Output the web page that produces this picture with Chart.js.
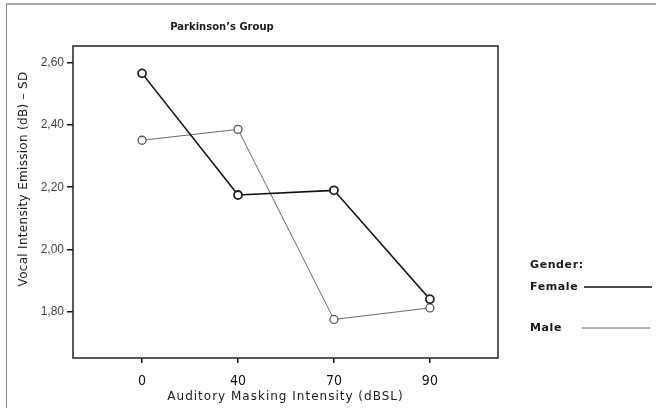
<!DOCTYPE html>
<html>
<head>
<meta charset="utf-8">
<title>Parkinson's Group</title>
<script src="https://cdn.jsdelivr.net/npm/chart.js@4/dist/chart.umd.min.js"></script>
<style>
  body { margin: 0; background: #fff; }
  #wrap { width: 656px; height: 408px; }
</style>
</head>
<body>
<div id="wrap"><canvas id="parkChart" width="656" height="408"></canvas></div>
<script>
// data
const maskingLevels = ['0', '40', '70', '90'];
const femaleSD = [2.566, 2.175, 2.19, 1.84];
const maleSD = [2.351, 2.386, 1.775, 1.812];
const yTickValues = [1.8, 2.0, 2.2, 2.4, 2.6];

const chartTitle = 'Parkinson\u2019s Group';
const xTitle = 'Auditory Masking Intensity (dBSL)';
const yTitle = 'Vocal Intensity Emission (dB) \u2013 SD';
const legendTitle = 'Gender:';

// turn category values into {x, y} points on an index axis
function toPoints(values) {
    return values.map((v, i) => ({ x: i, y: v }));
}

// grey frame round the picture, black box round the plot
const framePlugin = {
    id: 'framePlugin',
    beforeDraw(chart) {
        const ctx = chart.ctx;
        ctx.save();
        ctx.fillStyle = '#fff';
        ctx.fillRect(0, 0, chart.width, chart.height);
        ctx.strokeStyle = '#a8a8a8';
        ctx.lineWidth = 2;
        ctx.beginPath();
        ctx.moveTo(6, 4);
        ctx.lineTo(chart.width, 4);
        ctx.stroke();
        ctx.strokeStyle = '#8a8a8a';
        ctx.lineWidth = 1;
        ctx.beginPath();
        ctx.moveTo(6.5, 4);
        ctx.lineTo(6.5, chart.height);
        ctx.stroke();
        ctx.restore();
    },
    beforeDatasetsDraw(chart) {
        const a = chart.chartArea;
        const ctx = chart.ctx;
        ctx.save();
        ctx.strokeStyle = '#222';
        ctx.lineWidth = 1.5;
        ctx.strokeRect(a.left, a.top, a.right - a.left, a.bottom - a.top);
        ctx.restore();
    }
};

// titles and the "Gender:" legend, drawn with a bit of letter spacing
const textPlugin = {
    id: 'textPlugin',
    afterDraw(chart) {
        const ctx = chart.ctx;
        const a = chart.chartArea;
        ctx.save();
        ctx.fillStyle = '#1a1a1a';
        ctx.textBaseline = 'middle';
        ctx.textAlign = 'center';

        ctx.font = 'bold 10px "DejaVu Sans", Verdana, sans-serif';
        ctx.letterSpacing = '0px';
        ctx.fillText(chartTitle, 222, 27);

        ctx.font = '12px "DejaVu Sans", Verdana, sans-serif';
        ctx.letterSpacing = '1px';
        ctx.fillText(xTitle, (a.left + a.right) / 2, 397);

        ctx.letterSpacing = '0.3px';
        ctx.save();
        ctx.translate(24, 179);
        ctx.rotate(-Math.PI / 2);
        ctx.fillText(yTitle, 0, 0);
        ctx.restore();

        ctx.textAlign = 'left';
        ctx.font = 'bold 11px "DejaVu Sans", Verdana, sans-serif';
        ctx.letterSpacing = '0.6px';
        ctx.fillText(legendTitle, 530, 265);

        const rows = [
            { y: 286, lineX0: 584, lineX1: 652 },
            { y: 327, lineX0: 582, lineX1: 650 }
        ];
        chart.data.datasets.forEach((ds, i) => {
            const r = rows[i];
            ctx.fillStyle = '#1a1a1a';
            ctx.fillText(ds.label, 530, r.y + 1);
            ctx.strokeStyle = ds.borderColor;
            ctx.lineWidth = ds.borderWidth;
            ctx.beginPath();
            ctx.moveTo(r.lineX0, r.y + 1);
            ctx.lineTo(r.lineX1, r.y + 1);
            ctx.stroke();
        });
        ctx.restore();
    }
};

const ctx = document.getElementById('parkChart').getContext('2d');
const parkChart = new Chart(ctx, {
    type: 'line',
    data: {
        datasets: [
            {
                label: 'Female',
                data: toPoints(femaleSD),
                borderColor: '#111',
                borderWidth: 1.6,
                pointRadius: 4,
                pointBorderWidth: 1.8,
                pointBorderColor: '#222',
                pointBackgroundColor: '#fff',
                tension: 0
            },
            {
                label: 'Male',
                data: toPoints(maleSD),
                borderColor: '#6a6a6a',
                borderWidth: 1,
                pointRadius: 4,
                pointBorderWidth: 1.3,
                pointBorderColor: '#555',
                pointBackgroundColor: '#fff',
                tension: 0
            }
        ]
    },
    options: {
        responsive: false,
        animation: false,
        layout: { padding: { left: 0, top: 46, right: 158, bottom: 0 } },
        plugins: {
            legend: { display: false },
            title: { display: false },
            tooltip: { enabled: false }
        },
        scales: {
            x: {
                type: 'linear',
                min: -0.72,
                max: 3.71,
                afterBuildTicks: s => { s.ticks = maskingLevels.map((_, i) => ({ value: i })); },
                afterFit: s => { s.height = 50; },
                ticks: {
                    callback: v => maskingLevels[v],
                    color: '#111',
                    padding: 10,
                    maxRotation: 0,
                    font: { family: '"Liberation Sans Narrow", "DejaVu Sans Condensed", "Liberation Sans"', size: 14 }
                },
                grid: { drawOnChartArea: false, drawTicks: true, tickLength: 5, color: '#111', lineWidth: 1.5 },
                border: { display: false }
            },
            y: {
                min: 1.651,
                max: 2.654,
                afterBuildTicks: s => { s.ticks = yTickValues.map(v => ({ value: v })); },
                afterFit: s => { s.width = 73; },
                ticks: {
                    callback: v => v.toFixed(2).replace('.', ','),
                    color: '#444',
                    padding: 3,
                    font: { family: '"Liberation Sans", Arial, sans-serif', size: 12 }
                },
                grid: { drawOnChartArea: false, drawTicks: true, tickLength: 6, color: '#111', lineWidth: 1.5 },
                border: { display: false }
            }
        }
    },
    plugins: [framePlugin, textPlugin]
});
</script>
</body>
</html>
